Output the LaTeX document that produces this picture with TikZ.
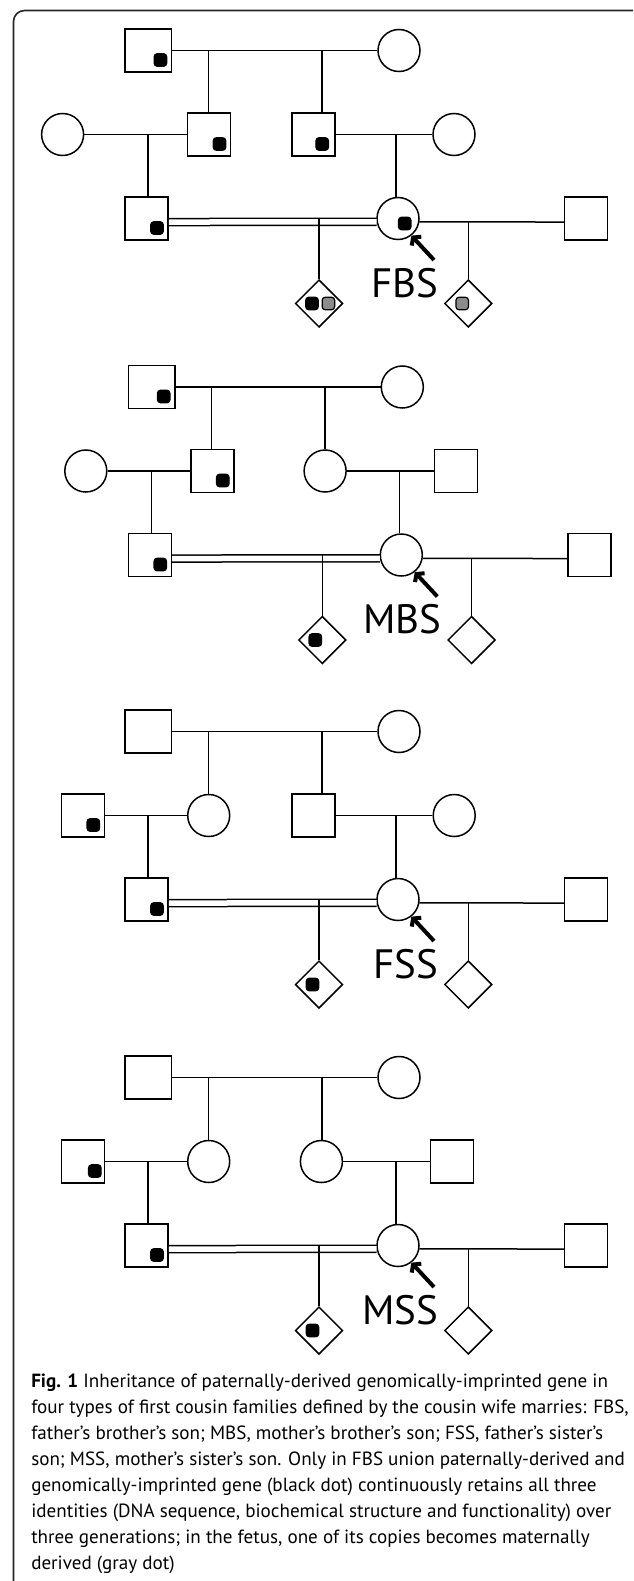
\documentclass[tikz,border=0pt]{standalone}
\usepackage{fontspec}
\setmainfont{PT Sans}
\usetikzlibrary{arrows.meta,shapes.geometric,positioning}
\definecolor{dotgray}{RGB}{140,140,140}
\tikzset{
  male/.style   ={draw, minimum size=43pt, inner sep=0pt},
  grandpa/.style={male, minimum width=46.5pt, minimum height=43pt},
  female/.style ={draw, circle, minimum size=42pt, inner sep=0pt},
  fetus/.style  ={draw, diamond, minimum size=47.5pt, inner sep=0pt},
  gene/.style   ={draw, fill=black, rounded corners=3pt, line width=1.2pt,
                  minimum size=12.5pt, inner sep=0pt},
  sqgene/.style ={gene, xshift=10.5pt, yshift=-9.5pt},
  mgene/.style  ={gene, fill=dotgray},
  dbl/.style    ={double distance=5.5pt},
  ptr/.style    ={line width=4pt, -{Straight Barb[length=5pt,width=13pt]}},
  tag/.style    ={font=\fontsize{41}{41}\selectfont, inner sep=0pt},
  capt/.style   ={font=\fontsize{19.1}{26}\selectfont, align=left, inner sep=0pt},
}
\begin{document}
\begin{tikzpicture}[x=1pt,y=-1pt,line width=1.5pt]
  \useasboundingbox (0,0) rectangle (633,1581);
  \fill[white] (0,0) rectangle (633,1581);
  \clip (0,0) rectangle (633,1581);
  \draw[line width=1.6pt, rounded corners=11pt, black!85] (13.5,10.5) rectangle (660,1620);

  %% FBS
  \begin{scope}
    \node[grandpa] (a-gf) at (148.4,50.5) {};
    \node[female] (a-gm) at (399,50.5) {};
    \node[female] (a-w1) at (62.6,134.5) {};
    \node[male] (a-s1) at (209,134.5) {};
    \node[male] (a-s2) at (313.7,134.5) {};
    \node[female] (a-w2) at (454,134.5) {};
    \node[male] (a-hus) at (146.5,218.5) {};
    \node[female] (a-wife) at (398,218.5) {};
    \node[male] (a-oth) at (586,218.5) {};
    \node[fetus] (a-f1) at (319,303.5) {};
    \node[fetus] (a-f2) at (468.3,303.5) {};
    \node[sqgene, xshift=1.5pt] (a-gfg) at (a-gf) {};
    \node[sqgene] (a-s1g) at (a-s1) {};
    \node[sqgene, xshift=-2pt] (a-s2g) at (a-s2) {};
    \node[sqgene] (a-husg) at (a-hus) {};
    \node[gene, xshift=6.7pt, yshift=-5pt] (a-wifeg) at (a-wife) {};
    \node[gene, xshift=-7pt] (a-f1g) at (a-f1) {};
    \node[mgene, xshift=9.4pt] (a-f1m) at (a-f1) {};
    \node[mgene, xshift=-6.1pt] (a-f2m) at (a-f2) {};
    \coordinate (a-d1) at (208.3,50.5);
    \coordinate (a-d2) at (321.8,50.5);
    \coordinate (a-d3) at (148.2,134.5);
    \coordinate (a-d4) at (396,134.5);
    \coordinate (a-tail) at (434,260);
    \draw (a-gf) -- (a-gm);
    \draw (a-d1) -- (a-d1 |- a-s1.north);
    \draw (a-d2) -- (a-d2 |- a-s2.north);
    \draw (a-w1) -- (a-s1);
    \draw (a-s2) -- (a-w2);
    \draw (a-d3) -- (a-d3 |- a-hus.north);
    \draw (a-d4) -- (a-d4 |- a-wife.north);
    \draw[dbl] (a-hus.-9) -- (a-wife.189);
    \draw (a-wife.-9) -- (a-oth.189);
    \draw (a-f1.north) -- (a-f1.north |- a-wife.west);
    \draw (a-f2.north) -- (a-f2.north |- a-oth.189);
    \draw[ptr] (a-tail) -- (a-wife.-52);
    \node[tag, below left=7.5pt and -5pt of a-tail] (a-lab) {FBS};
  \end{scope}

  %% MBS
  \begin{scope}[shift={(3.3,336.5)}]
    \node[grandpa] (b-gf) at (148.4,50.5) {};
    \node[female] (b-gm) at (399,50.5) {};
    \node[female] (b-w1) at (82.5,134.5) {};
    \node[male] (b-s1) at (209,134.5) {};
    \node[female] (b-d1) at (321.8,134.5) {};
    \node[male] (b-h2) at (452.9,134.5) {};
    \node[male] (b-hus) at (146.5,218.5) {};
    \node[female] (b-wife) at (398,218.5) {};
    \node[male] (b-oth) at (586,218.5) {};
    \node[fetus] (b-f1) at (319,303.5) {};
    \node[fetus] (b-f2) at (468.3,303.5) {};
    \node[sqgene, xshift=1.5pt] (b-gfg) at (b-gf) {};
    \node[sqgene] (b-s1g) at (b-s1) {};
    \node[sqgene] (b-husg) at (b-hus) {};
    \node[gene, xshift=-7pt] (b-f1g) at (b-f1) {};
    \coordinate (b-c1) at (208.3,50.5);
    \coordinate (b-c2) at (321.8,50.5);
    \coordinate (b-c3) at (148.2,134.5);
    \coordinate (b-c4) at (396,134.5);
    \coordinate (b-tail) at (434,260);
    \draw (b-gf) -- (b-gm);
    \draw (b-c1) -- (b-c1 |- b-s1.north);
    \draw (b-c2) -- (b-c2 |- b-d1.north);
    \draw (b-w1) -- (b-s1);
    \draw (b-d1) -- (b-h2);
    \draw (b-c3) -- (b-c3 |- b-hus.north);
    \draw (b-c4) -- (b-c4 |- b-wife.north);
    \draw[dbl] (b-hus.-9) -- (b-wife.189);
    \draw (b-wife.-9) -- (b-oth.189);
    \draw (b-f1.north) -- (b-f1.north |- b-wife.west);
    \draw (b-f2.north) -- (b-f2.north |- b-oth.189);
    \draw[ptr] (b-tail) -- (b-wife.-52);
    \node[tag, below left=7.5pt and -5pt of b-tail] (b-lab) {MBS};
  \end{scope}

  %% FSS
  \begin{scope}[shift={(0,681)}]
    \node[grandpa] (c-gf) at (148.4,50.5) {};
    \node[female] (c-gm) at (399,50.5) {};
    \node[male] (c-h1) at (82.8,134.5) {};
    \node[female] (c-d1) at (208.7,134.5) {};
    \node[male] (c-s2) at (313.7,134.5) {};
    \node[female] (c-w2) at (454.2,134.5) {};
    \node[male] (c-hus) at (146.5,218.5) {};
    \node[female] (c-wife) at (398,218.5) {};
    \node[male] (c-oth) at (586,218.5) {};
    \node[fetus] (c-f1) at (319,303.5) {};
    \node[fetus] (c-f2) at (468.3,303.5) {};
    \node[sqgene] (c-h1g) at (c-h1) {};
    \node[sqgene] (c-husg) at (c-hus) {};
    \node[gene, xshift=-6.5pt] (c-f1g) at (c-f1) {};
    \coordinate (c-c1) at (208.3,50.5);
    \coordinate (c-c2) at (321.8,50.5);
    \coordinate (c-c3) at (148.2,134.5);
    \coordinate (c-c4) at (396,134.5);
    \coordinate (c-tail) at (434,260);
    \draw (c-gf) -- (c-gm);
    \draw (c-c1) -- (c-c1 |- c-d1.north);
    \draw (c-c2) -- (c-c2 |- c-s2.north);
    \draw (c-h1) -- (c-d1);
    \draw (c-s2) -- (c-w2);
    \draw (c-c3) -- (c-c3 |- c-hus.north);
    \draw (c-c4) -- (c-c4 |- c-wife.north);
    \draw[dbl] (c-hus.-9) -- (c-wife.189);
    \draw (c-wife.-9) -- (c-oth.189);
    \draw (c-f1.north) -- (c-f1.north |- c-wife.west);
    \draw (c-f2.north) -- (c-f2.north |- c-oth.189);
    \draw[ptr] (c-tail) -- (c-wife.-52);
    \node[tag, below left=7.5pt and -5pt of c-tail] (c-lab) {FSS};
  \end{scope}

  %% MSS
  \begin{scope}[shift={(0,1027)}]
    \node[grandpa] (d-gf) at (148.4,50.5) {};
    \node[female] (d-gm) at (399,50.5) {};
    \node[male] (d-h1) at (82.8,134.5) {};
    \node[female] (d-d1) at (208.7,134.5) {};
    \node[female] (d-d2) at (321.4,134.5) {};
    \node[male] (d-h2) at (452.2,134.5) {};
    \node[male] (d-hus) at (146.5,218.5) {};
    \node[female] (d-wife) at (398,218.5) {};
    \node[male] (d-oth) at (586,218.5) {};
    \node[fetus] (d-f1) at (319,303.5) {};
    \node[fetus] (d-f2) at (468.3,303.5) {};
    \node[sqgene, xshift=1.5pt] (d-h1g) at (d-h1) {};
    \node[sqgene] (d-husg) at (d-hus) {};
    \node[gene, xshift=-6.5pt] (d-f1g) at (d-f1) {};
    \coordinate (d-c1) at (208.3,50.5);
    \coordinate (d-c2) at (321.8,50.5);
    \coordinate (d-c3) at (148.2,134.5);
    \coordinate (d-c4) at (396,134.5);
    \coordinate (d-tail) at (434,260);
    \draw (d-gf) -- (d-gm);
    \draw (d-c1) -- (d-c1 |- d-d1.north);
    \draw (d-c2) -- (d-c2 |- d-d2.north);
    \draw (d-h1) -- (d-d1);
    \draw (d-d2) -- (d-h2);
    \draw (d-c3) -- (d-c3 |- d-hus.north);
    \draw (d-c4) -- (d-c4 |- d-wife.north);
    \draw[dbl] (d-hus.-9) -- (d-wife.189);
    \draw (d-wife.-9) -- (d-oth.189);
    \draw (d-f1.north) -- (d-f1.north |- d-wife.west);
    \draw (d-f2.north) -- (d-f2.north |- d-oth.189);
    \draw[ptr] (d-tail) -- (d-wife.-52);
    \node[tag, below left=7.5pt and -5pt of d-tail] (d-lab) {MSS};
  \end{scope}

  %% caption
  \node[capt, anchor=north west] (cap) at (30.5,1373.5) {%
    \textbf{Fig. 1} Inheritance of paternally-derived genomically-imprinted gene in\\
    four types of first cousin families defined by the cousin wife marries: FBS,\\
    father’s brother’s son; MBS, mother’s brother’s son; FSS, father’s sister’s\\
    son; MSS, mother’s sister’s son. Only in FBS union paternally-derived and\\
    genomically-imprinted gene (black dot) continuously retains all three\\
    identities (DNA sequence, biochemical structure and functionality) over\\
    three generations; in the fetus, one of its copies becomes maternally\\
    derived (gray dot)};
\end{tikzpicture}
\end{document}
